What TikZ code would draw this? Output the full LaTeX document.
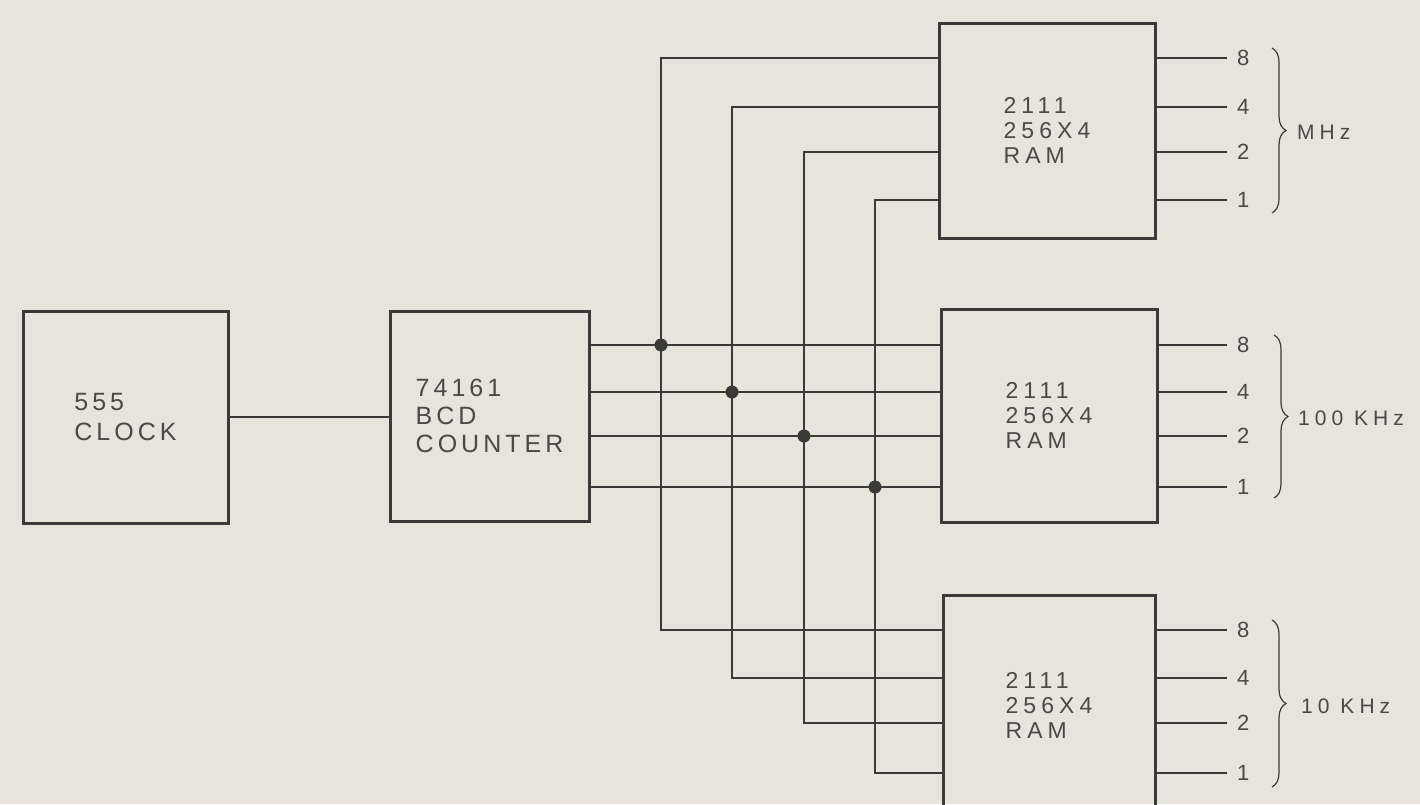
\documentclass[tikz,border=0pt]{standalone}
\usepackage{fontspec}
\setmainfont{Liberation Sans}
\newfontfamily\boxfont[LetterSpace=16]{Liberation Sans}
\newfontfamily\ramfont[LetterSpace=22]{Liberation Sans}
\newfontfamily\freqfont[LetterSpace=24]{Liberation Sans}
\usetikzlibrary{decorations.pathreplacing}
\definecolor{bg}{HTML}{E6E4DB}
\definecolor{ink}{HTML}{3A3A36}
\definecolor{txt}{HTML}{4A4A45}
\begin{document}
\begin{tikzpicture}[x=1pt,y=-1pt,
  blk/.style={draw=ink, line width=3pt, rectangle, inner sep=0pt, align=left, text=txt},
  wire/.style={draw=ink, line width=2pt, line join=miter},
  jdot/.style={circle, fill=ink, inner sep=0pt, minimum size=13pt},
  bit/.style={font=\fontsize{22}{22}\selectfont, text=txt, anchor=west, inner xsep=10pt, inner ysep=0pt},
  brc/.style={draw=ink, line width=1.2pt, decorate, decoration={brace, amplitude=14pt}},
  freq/.style={anchor=west, inner sep=0pt, font=\freqfont\fontsize{21}{21}\selectfont, text=txt}]
\fill[bg] (0,0) rectangle (1420,804);
\useasboundingbox (0,0) rectangle (1420,804);
\clip (0,0) rectangle (1420,804);

% blocks
\node[blk, minimum width=205pt, minimum height=212pt, font=\boxfont\fontsize{25}{30}\selectfont] (clock) at (125.5,417) {555\\CLOCK};
\node[blk, minimum width=199pt, minimum height=210pt, font=\boxfont\fontsize{25}{28}\selectfont] (counter) at (489.5,416) {74161\\BCD\\COUNTER};
\node[blk, minimum width=216pt, minimum height=215pt, font=\ramfont\fontsize{23}{25}\selectfont] (ramA) at (1047,130.5) {2111\\256X4\\RAM};
\node[blk, minimum width=216pt, minimum height=213pt, font=\ramfont\fontsize{23}{25}\selectfont] (ramB) at (1049,415.5) {2111\\256X4\\RAM};
\node[blk, minimum width=212pt, minimum height=220pt, font=\ramfont\fontsize{23}{25}\selectfont] (ramC) at (1049,705) {2111\\256X4\\RAM};

% clock to counter
\draw[wire] (clock.east) -- (clock.east -| counter.west);

% levels of counter outputs
\coordinate (m8) at (0,345);
\coordinate (m4) at (0,392);
\coordinate (m2) at (0,436);
\coordinate (m1) at (0,487);
\foreach \b in {8,4,2,1}
  \draw[wire] (counter.east |- m\b) -- (ramB.west |- m\b);

% buses: top end, bottom end
\coordinate (a8) at (661,58);  \coordinate (c8) at (661,630);
\coordinate (a4) at (732,107); \coordinate (c4) at (732,678);
\coordinate (a2) at (804,152); \coordinate (c2) at (804,723);
\coordinate (a1) at (875,200); \coordinate (c1) at (875,773);
\foreach \b in {8,4,2,1}{
  \draw[wire] (ramA.west |- a\b) -- (a\b) -- (c\b) -- (ramC.west |- c\b);
  \node[jdot] (j\b) at (a\b |- m\b) {};
}

% outputs and labels
\foreach \r/\b/\y in {A/8/58,A/4/107,A/2/152,A/1/200,B/8/345,B/4/392,B/2/436,B/1/487,C/8/630,C/4/678,C/2/723,C/1/773}{
  \node[bit] (o\r\b) at (1227,\y) {\b};
  \draw[wire] (ram\r.east |- o\r\b.west) -- (o\r\b.west);
}

% braces and frequency labels
\coordinate (bA1) at (1272,48);  \coordinate (bA2) at (1272,213);
\coordinate (bB1) at (1274,335); \coordinate (bB2) at (1274,498);
\coordinate (bC1) at (1272,620); \coordinate (bC2) at (1272,787);
\draw[brc] (bA1) -- (bA2);
\draw[brc] (bB1) -- (bB2);
\draw[brc] (bC1) -- (bC2);
\node[freq] (fA) at (1297,132) {MHz};
\node[freq] (fB) at (1298,418) {100 KHz};
\node[freq] (fC) at (1301,706) {10 KHz};
\end{tikzpicture}
\end{document}
